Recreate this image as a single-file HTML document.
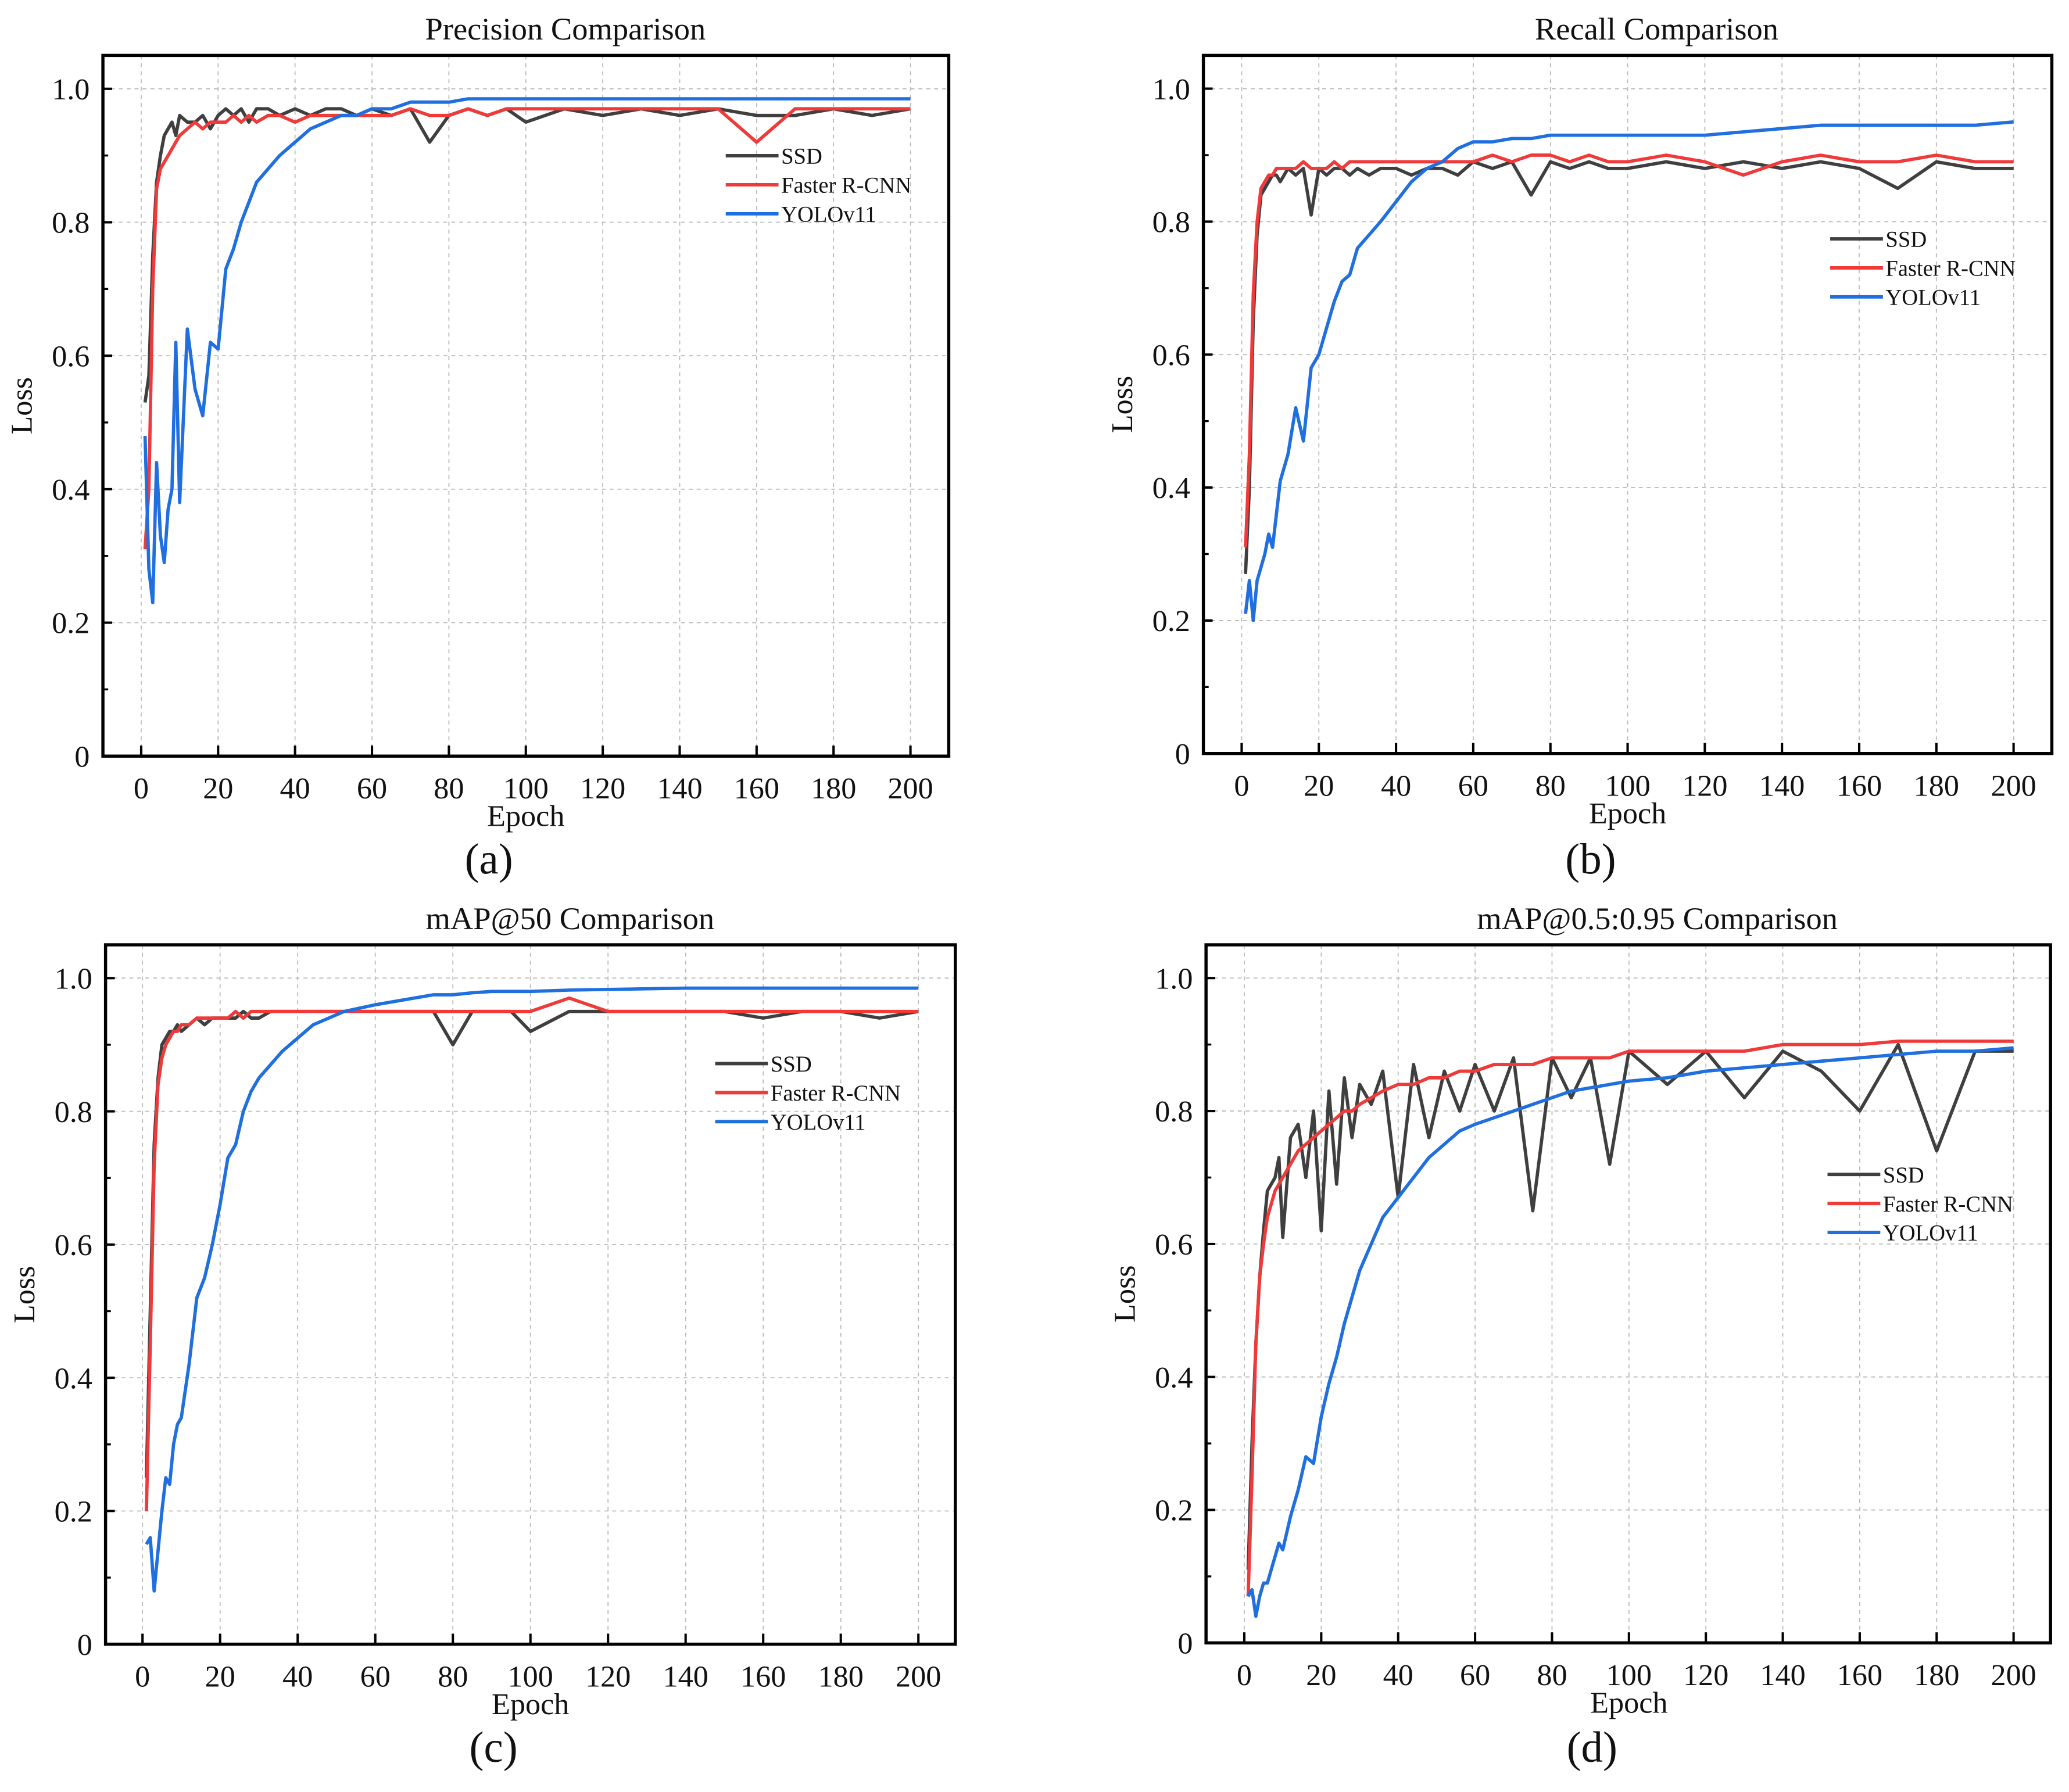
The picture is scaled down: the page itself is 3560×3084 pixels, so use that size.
<!DOCTYPE html>
<html><head><meta charset="utf-8"><style>
html,body{margin:0;padding:0;background:#fff;}
svg{display:block;}
text{font-family:"Liberation Serif","DejaVu Serif",serif;fill:#111;}
</style></head><body>
<svg id="fig" width="3560" height="3084" viewBox="0 0 1568 1358" preserveAspectRatio="none" xmlns="http://www.w3.org/2000/svg"></svg>
<script>
const epochs=[1,2,3,4,5,6,7,8,9,10,12,14,16,18,20,22,24,26,28,30,33,36,40,44,48,52,56,60,65,70,75,80,85,90,95,100,110,120,130,140,150,160,170,180,190,200];
const xTicks=[0,20,40,60,80,100,120,140,160,180,200];
const yTicks=[0,0.2,0.4,0.6,0.8,1.0];
const yTickLabels=["0","0.2","0.4","0.6","0.8","1.0"];
const seriesNames=["SSD","Faster R-CNN","YOLOv11"];
const titles=["Precision Comparison","Recall Comparison","mAP@50  Comparison","mAP@0.5:0.95  Comparison"];
const letters=["(a)","(b)","(c)","(d)"];
const aSSD=[0.53,0.57,0.75,0.86,0.90,0.93,0.94,0.95,0.93,0.96,0.95,0.95,0.96,0.94,0.96,0.97,0.96,0.97,0.95,0.97,0.97,0.96,0.97,0.96,0.97,0.97,0.96,0.97,0.96,0.97,0.92,0.96,0.97,0.96,0.97,0.95,0.97,0.96,0.97,0.96,0.97,0.96,0.96,0.97,0.96,0.97];
const aFRC=[0.31,0.40,0.70,0.85,0.88,0.89,0.90,0.91,0.92,0.93,0.94,0.95,0.94,0.95,0.95,0.95,0.96,0.95,0.96,0.95,0.96,0.96,0.95,0.96,0.96,0.96,0.96,0.96,0.96,0.97,0.96,0.96,0.97,0.96,0.97,0.97,0.97,0.97,0.97,0.97,0.97,0.92,0.97,0.97,0.97,0.97];
const aYOLO=[0.48,0.28,0.23,0.44,0.33,0.29,0.37,0.40,0.62,0.38,0.64,0.55,0.51,0.62,0.61,0.73,0.76,0.80,0.83,0.86,0.88,0.90,0.92,0.94,0.95,0.96,0.96,0.97,0.97,0.98,0.98,0.98,0.985,0.985,0.985,0.985,0.985,0.985,0.985,0.985,0.985,0.985,0.985,0.985,0.985,0.985];
const bSSD=[0.27,0.40,0.65,0.78,0.84,0.85,0.86,0.87,0.87,0.86,0.88,0.87,0.88,0.81,0.88,0.87,0.88,0.88,0.87,0.88,0.87,0.88,0.88,0.87,0.88,0.88,0.87,0.89,0.88,0.89,0.84,0.89,0.88,0.89,0.88,0.88,0.89,0.88,0.89,0.88,0.89,0.88,0.85,0.89,0.88,0.88];
const bFRC=[0.31,0.45,0.69,0.80,0.85,0.86,0.87,0.87,0.88,0.88,0.88,0.88,0.89,0.88,0.88,0.88,0.89,0.88,0.89,0.89,0.89,0.89,0.89,0.89,0.89,0.89,0.89,0.89,0.90,0.89,0.90,0.90,0.89,0.90,0.89,0.89,0.90,0.89,0.87,0.89,0.90,0.89,0.89,0.90,0.89,0.89];
const bYOLO=[0.21,0.26,0.20,0.26,0.28,0.30,0.33,0.31,0.36,0.41,0.45,0.52,0.47,0.58,0.60,0.64,0.68,0.71,0.72,0.76,0.78,0.80,0.83,0.86,0.88,0.89,0.91,0.92,0.92,0.925,0.925,0.93,0.93,0.93,0.93,0.93,0.93,0.93,0.935,0.94,0.945,0.945,0.945,0.945,0.945,0.95];
const cSSD=[0.25,0.50,0.75,0.85,0.90,0.91,0.92,0.92,0.93,0.92,0.93,0.94,0.93,0.94,0.94,0.94,0.94,0.95,0.94,0.94,0.95,0.95,0.95,0.95,0.95,0.95,0.95,0.95,0.95,0.95,0.95,0.90,0.95,0.95,0.95,0.92,0.95,0.95,0.95,0.95,0.95,0.94,0.95,0.95,0.94,0.95];
const cFRC=[0.20,0.45,0.72,0.84,0.88,0.90,0.91,0.92,0.92,0.93,0.93,0.94,0.94,0.94,0.94,0.94,0.95,0.94,0.95,0.95,0.95,0.95,0.95,0.95,0.95,0.95,0.95,0.95,0.95,0.95,0.95,0.95,0.95,0.95,0.95,0.95,0.97,0.95,0.95,0.95,0.95,0.95,0.95,0.95,0.95,0.95];
const cYOLO=[0.15,0.16,0.08,0.14,0.20,0.25,0.24,0.30,0.33,0.34,0.42,0.52,0.55,0.60,0.66,0.73,0.75,0.80,0.83,0.85,0.87,0.89,0.91,0.93,0.94,0.95,0.955,0.96,0.965,0.97,0.975,0.975,0.978,0.98,0.98,0.98,0.982,0.983,0.984,0.985,0.985,0.985,0.985,0.985,0.985,0.985];
const dSSD=[0.11,0.30,0.45,0.55,0.62,0.68,0.69,0.70,0.73,0.61,0.76,0.78,0.70,0.80,0.62,0.83,0.69,0.85,0.76,0.84,0.81,0.86,0.67,0.87,0.76,0.86,0.80,0.87,0.80,0.88,0.65,0.88,0.82,0.88,0.72,0.89,0.84,0.89,0.82,0.89,0.86,0.80,0.90,0.74,0.89,0.89];
const dFRC=[0.07,0.25,0.45,0.55,0.60,0.64,0.66,0.68,0.69,0.70,0.72,0.74,0.75,0.76,0.77,0.78,0.79,0.80,0.80,0.81,0.82,0.83,0.84,0.84,0.85,0.85,0.86,0.86,0.87,0.87,0.87,0.88,0.88,0.88,0.88,0.89,0.89,0.89,0.89,0.90,0.90,0.90,0.905,0.905,0.905,0.905];
const dYOLO=[0.07,0.08,0.04,0.07,0.09,0.09,0.11,0.13,0.15,0.14,0.19,0.23,0.28,0.27,0.34,0.39,0.43,0.48,0.52,0.56,0.60,0.64,0.67,0.70,0.73,0.75,0.77,0.78,0.79,0.80,0.81,0.82,0.83,0.835,0.84,0.845,0.85,0.86,0.865,0.87,0.875,0.88,0.885,0.89,0.89,0.895];
const panelData=[[aSSD,aFRC,aYOLO],[bSSD,bFRC,bYOLO],[cSSD,cFRC,cYOLO],[dSSD,dFRC,dYOLO]];
const colors=["#3f3f3f","#f03a3a","#1f6fe0"];
const panels=[
 {L:78,R:719,T:42,B:573,x0:107,x200:690,legX:550,legY:118,letY:662},
 {L:912,R:1555,T:42,B:571,x0:941,x200:1526,legX:1387,legY:181,letY:662},
 {L:80,R:724,T:716,B:1246,x0:108,x200:696,legX:542,legY:806,letY:1335},
 {L:914,R:1554,T:716,B:1245,x0:943,x200:1526,legX:1385,legY:890,letY:1335}
];
const NS="http://www.w3.org/2000/svg";
const svg=document.getElementById('fig');
function mk(tag,attrs,parent){const e=document.createElementNS(NS,tag);for(const k in attrs)e.setAttribute(k,attrs[k]);(parent||svg).appendChild(e);return e;}
panels.forEach((p,pi)=>{
 const g=mk('g',{});
 
 
 const xs=e=>p.x0+(p.x200-p.x0)*e/200;
 const yZero=p.B, y1=p.T+(p.B-p.T)*(0.05/1.05);
 const ys=v=>yZero-(yZero-y1)*v;
 xTicks.forEach(t=>{const l=mk('line',{x1:xs(t),x2:xs(t),y1:p.T,y2:p.B,stroke:'#bbb','stroke-width':0.8,'stroke-dasharray':'3,3'},g);
  });
 yTicks.forEach(t=>{if(t===0)return;const l=mk('line',{x1:p.L,x2:p.R,y1:ys(t),y2:ys(t),stroke:'#bbb','stroke-width':0.8,'stroke-dasharray':'3,3'},g);
  });
 panelData[pi].forEach((arr,si)=>{
  const n=Math.min(arr.length,epochs.length);let d='';
  for(let i=0;i<n;i++)d+=(i?'L':'M')+xs(epochs[i]).toFixed(2)+','+ys(arr[i]).toFixed(2);
  const path=mk('path',{d:d,fill:'none',stroke:colors[si],'stroke-width':2.5,'stroke-linejoin':'round'},g);
  
  
 });
 const fr=mk('rect',{x:p.L,y:p.T,width:p.R-p.L,height:p.B-p.T,fill:'none',stroke:'#000','stroke-width':2.4},g);
 
 xTicks.forEach(t=>{mk('line',{x1:xs(t),x2:xs(t),y1:p.B,y2:p.B-8,stroke:'#000','stroke-width':1.8},g);
  const tx=mk('text',{x:xs(t),y:p.B+32,'text-anchor':'middle','font-size':23},g);tx.textContent=t;
  });
 for(let k=1;k<10;k+=2){mk('line',{x1:p.L,x2:p.L+4,y1:ys(k/10),y2:ys(k/10),stroke:'#000','stroke-width':1.5},g);}
 yTicks.forEach((t,i)=>{mk('line',{x1:p.L,x2:p.L+7,y1:ys(t),y2:ys(t),stroke:'#000','stroke-width':1.8},g);
  const tx=mk('text',{x:p.L-10,y:ys(t)+8,'text-anchor':'end','font-size':23},g);tx.textContent=yTickLabels[i];
  });
 const tt=mk('text',{x:(p.L+p.R)/2+(pi%2?22:30),y:p.T-12,'text-anchor':'middle','font-size':24},g);tt.textContent=titles[pi];
 
 const xl=mk('text',{x:xs(100),y:p.B+53,'text-anchor':'middle','font-size':23},g);xl.textContent='Epoch';
 
 const yx=p.L-54, yy=(p.T+p.B)/2;
 const yl=mk('text',{x:yx,y:yy,'text-anchor':'middle','font-size':23,transform:'rotate(-90 '+yx+' '+yy+')'},g);yl.textContent='Loss';
 
 const lt=mk('text',{x:xs(100)-28,y:p.letY,'text-anchor':'middle','font-size':33},g);lt.textContent=letters[pi];
 
 seriesNames.forEach((nm,si)=>{
  const ly=p.legY+si*22;
  const le=mk('g',{},g);
  
  mk('line',{x1:p.legX,x2:p.legX+40,y1:ly,y2:ly,stroke:colors[si],'stroke-width':2.6},le);
  const t=mk('text',{x:p.legX+42,y:ly+6,'font-size':17},le);t.textContent=nm;
 });
});
</script>
</body></html>
